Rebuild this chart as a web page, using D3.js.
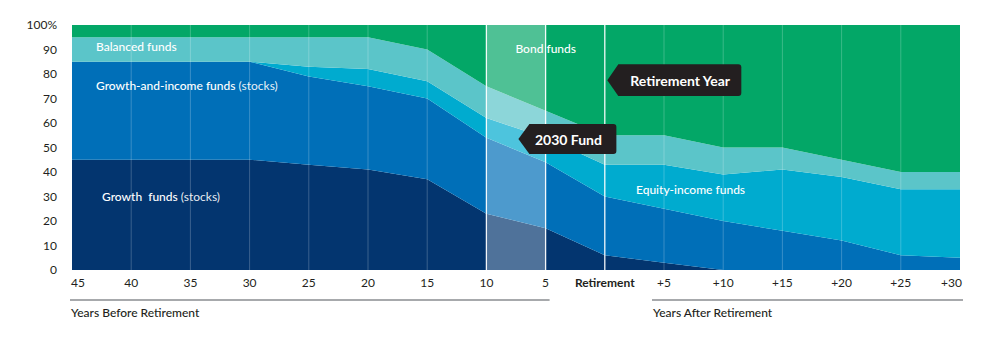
<!DOCTYPE html>
<html>
<head>
<meta charset="utf-8">
<script src="https://cdn.jsdelivr.net/npm/d3@7"></script>
<style>
  html, body { margin: 0; padding: 0; background: #fff; }
  svg { display: block; font-family: Lato, "Open Sans", sans-serif; }
</style>
</head>
<body>
<svg id="chart" width="996" height="337"></svg>
<script>
// ---- Data ----
const categories = ["45","40","35","30","25","20","15","10","5","Retirement","+5","+10","+15","+20","+25","+30"];
const growthFunds        = [45,45,45,45,43,41,37,23,17, 6, 3, 0, 0, 0, 0, 0];
const growthIncomeFunds  = [40,40,40,40,36,34,33,31,27,24,22,20,16,12, 6, 5];
const equityIncomeFunds  = [ 0, 0, 0, 0, 4, 7, 7, 8,10,13,18,19,25,26,27,28];
const balancedFunds      = [10,10,10,10,12,13,13,13,11,12,12,11, 9, 7, 7, 7];
const bondFunds          = [ 5, 5, 5, 5, 5, 5,10,25,35,45,45,50,50,55,60,60];
const seriesNames = ["Growth funds","Growth-and-income funds","Equity-income funds","Balanced funds","Bond funds"];
const yTicks = [0,10,20,30,40,50,60,70,80,90,100];
const highlightRange = ["10","5"];
const brightGrid = ["10","5","Retirement"];

// ---- Layout ----
const svg = d3.select("#chart");
const plotLeft = 72, plotRight = 960, plotTop = 25, plotBottom = 270;
const x = d3.scalePoint().domain(categories).range([plotLeft, plotRight]);
const y = d3.scaleLinear().domain([0, 100]).range([plotBottom, plotTop]);
const colors = ["#03356f","#006fb8","#00abcf","#5bc5c9","#03a767"];

const table = categories.map((c, i) => ({
  cat: c,
  "Growth funds": growthFunds[i],
  "Growth-and-income funds": growthIncomeFunds[i],
  "Equity-income funds": equityIncomeFunds[i],
  "Balanced funds": balancedFunds[i],
  "Bond funds": bondFunds[i]
}));
const stacked = d3.stack().keys(seriesNames)(table);
const area = d3.area()
  .x(d => x(d.data.cat))
  .y0(d => y(d[0]))
  .y1(d => y(d[1]));

svg.append("g").selectAll("path").data(stacked).join("path")
  .attr("d", area)
  .attr("fill", (d, i) => colors[i]);

// highlight band
svg.append("rect")
  .attr("x", x(highlightRange[0]))
  .attr("y", y(100))
  .attr("width", x(highlightRange[1]) - x(highlightRange[0]))
  .attr("height", y(0) - y(100))
  .attr("fill", "#fff").attr("opacity", 0.3);

// gridlines
svg.append("g").selectAll("line").data(categories.slice(1, -1)).join("line")
  .attr("x1", d => x(d)).attr("x2", d => x(d))
  .attr("y1", y(100)).attr("y2", y(0))
  .attr("stroke", "#fff")
  .attr("stroke-width", d => brightGrid.includes(d) ? 1.3 : 1)
  .attr("stroke-opacity", d => brightGrid.includes(d) ? 0.95 : 0.22);

// y axis labels
svg.append("g").selectAll("text").data(yTicks).join("text")
  .attr("x", 57).attr("y", d => y(d))
  .attr("dy", "0.35em")
  .attr("text-anchor", "end")
  .attr("font-size", 12).attr("fill", "#231f20")
  .text(d => d === 100 ? "100%" : d);

// x axis labels
svg.append("g").selectAll("text").data(categories).join("text")
  .attr("x", (d, i) => i === 0 ? x(d) - 1 : (i === categories.length - 1 ? x(d) + 2 : x(d)))
  .attr("y", 283).attr("dy", "0.35em")
  .attr("text-anchor", (d, i) => i === 0 ? "start" : (i === categories.length - 1 ? "end" : "middle"))
  .attr("font-size", 12).attr("fill", "#231f20")
  .attr("font-weight", d => d === "Retirement" ? 700 : 400)
  .text(d => d);

// section rules and titles
const sections = [
  { title: "Years Before Retirement", x0: x("45") - 2, x1: x("5") + 4 },
  { title: "Years After Retirement", x0: x("+5") - 12, x1: x("+30") + 3 }
];
svg.append("g").selectAll("line").data(sections).join("line")
  .attr("x1", d => d.x0).attr("x2", d => d.x1)
  .attr("y1", 300).attr("y2", 300)
  .attr("stroke", "#a7a9ac").attr("stroke-width", 2);
svg.append("g").selectAll("text").data(sections).join("text")
  .attr("x", d => d.x0 + 1).attr("y", 313).attr("dy", "0.35em")
  .attr("font-size", 12).attr("fill", "#231f20").attr("font-weight", 500)
  .text(d => d.title);

// area labels
const areaLabels = [
  { cat: "45", dx: 24, v: 91, main: "Balanced funds", sub: "" },
  { cat: "45", dx: 24, v: 75.3, main: "Growth-and-income funds", sub: " (stocks)" },
  { cat: "45", dx: 30, v: 30, main: "Growth\u00a0 funds", sub: " (stocks)" },
  { cat: "10", dx: 29, v: 90.2, main: "Bond funds", sub: "" },
  { cat: "+5", dx: -28, v: 32.7, main: "Equity-income funds", sub: "" }
];
const lab = svg.append("g").selectAll("text").data(areaLabels).join("text")
  .attr("x", d => x(d.cat) + d.dx).attr("y", d => y(d.v)).attr("dy", "0.35em")
  .attr("font-size", 12).attr("fill", "#fff");
lab.append("tspan").attr("font-weight", 500).text(d => d.main);
lab.append("tspan").attr("font-weight", 400).attr("fill-opacity", 0.92).text(d => d.sub);

// callouts
const callouts = [
  { text: "Retirement Year", cat: "Retirement", dx: 2.5, v: 77.5, w: 134, h: 31.6 },
  { text: "2030 Fund", cat: "10", dx: 32, v: 53.5, w: 98, h: 30 }
];
const cg = svg.append("g").selectAll("g").data(callouts).join("g")
  .attr("transform", d => `translate(${x(d.cat) + d.dx},${y(d.v)})`);
cg.append("path")
  .attr("d", d => {
    const h2 = d.h / 2, r = 3, a = 11;
    return `M0,0 L${a},${-h2} L${d.w - r},${-h2} Q${d.w},${-h2} ${d.w},${-h2 + r} ` +
      `L${d.w},${h2 - r} Q${d.w},${h2} ${d.w - r},${h2} L${a},${h2} Z`;
  })
  .attr("fill", "#231f20");
cg.append("text")
  .attr("x", d => d.text === "2030 Fund" ? 16.5 : 23)
  .attr("y", 1).attr("dy", "0.35em")
  .attr("font-size", 14).attr("font-weight", 700).attr("fill", "#fff")
  .text(d => d.text);
</script>
</body>
</html>
